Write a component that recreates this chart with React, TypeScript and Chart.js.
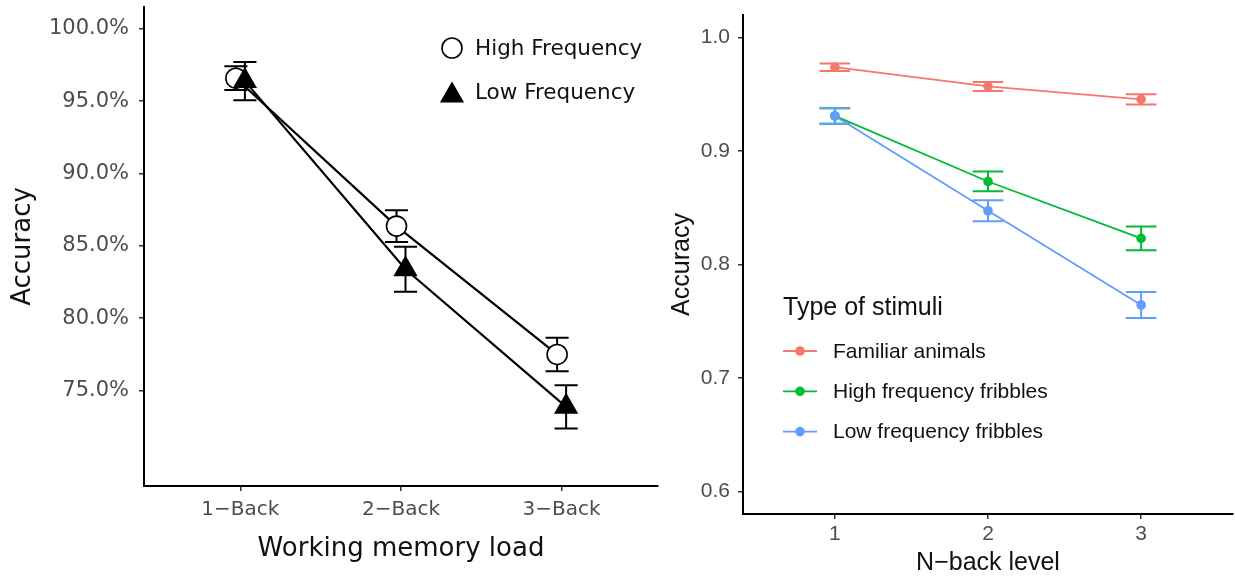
import React, { useEffect, useRef } from 'react';
import { Chart, registerables } from 'chart.js';

Chart.register(...registerables);

// ---------- Left chart data ----------
const wmCategories = ['1−Back', '2−Back', '3−Back'];
const highFreqMean = [96.58, 86.36, 77.49];
const highFreqErr = [0.82, 1.1, 1.16];
const lowFreqMean = [96.38, 83.38, 73.87];
const lowFreqErr = [1.32, 1.55, 1.5];
const leftYTicks = [75, 80, 85, 90, 95, 100];

// ---------- Right chart data ----------
const nbackLevels = [1, 2, 3];
const familiarMean = [0.974, 0.957, 0.9456];
const familiarErr = [0.0033, 0.004, 0.0046];
const highFribMean = [0.931, 0.8732, 0.823];
const highFribErr = [0.0068, 0.0087, 0.0105];
const lowFribMean = [0.931, 0.8474, 0.7643];
const lowFribErr = [0.0068, 0.0092, 0.0114];
const rightYTicks = [0.6, 0.7, 0.8, 0.9, 1.0];

const DODGE = 0.028;
const LEFT_FONT = '"DejaVu Sans", sans-serif';
const RIGHT_FONT = '"Liberation Sans", Arial, sans-serif';

const errorBarPlugin = {
  id: 'errorBars',
  beforeDatasetsDraw(chart: any) {
    const { ctx } = chart;
    const xs = chart.scales.x;
    const ys = chart.scales.y;
    chart.data.datasets.forEach((ds: any) => {
      if (!ds.errors) return;
      ctx.save();
      ctx.strokeStyle = ds.errorColor;
      ctx.lineWidth = ds.errorWidth;
      ds.data.forEach((pt: any, j: number) => {
        const x = xs.getPixelForValue(pt.x);
        const xl = xs.getPixelForValue(pt.x - ds.capHalf);
        const xr = xs.getPixelForValue(pt.x + ds.capHalf);
        const yt = ys.getPixelForValue(pt.y + ds.errors[j]);
        const yb = ys.getPixelForValue(pt.y - ds.errors[j]);
        ctx.beginPath();
        ctx.moveTo(x, yt);
        ctx.lineTo(x, yb);
        ctx.moveTo(xl, yt);
        ctx.lineTo(xr, yt);
        ctx.moveTo(xl, yb);
        ctx.lineTo(xr, yb);
        ctx.stroke();
      });
      ctx.restore();
    });
  },
};

function drawMarker(ctx: CanvasRenderingContext2D, style: string, x: number, y: number, r: number, fill: string, stroke: string, bw: number) {
  ctx.beginPath();
  if (style === 'triangle') {
    let rad = 0;
    ctx.moveTo(x + Math.sin(rad) * r, y - Math.cos(rad) * r);
    rad += (2 * Math.PI) / 3;
    ctx.lineTo(x + Math.sin(rad) * r, y - Math.cos(rad) * r);
    rad += (2 * Math.PI) / 3;
    ctx.lineTo(x + Math.sin(rad) * r, y - Math.cos(rad) * r);
    ctx.closePath();
  } else {
    ctx.arc(x, y, r, 0, Math.PI * 2);
  }
  ctx.fillStyle = fill;
  ctx.fill();
  if (bw > 0) {
    ctx.lineWidth = bw;
    ctx.strokeStyle = stroke;
    ctx.stroke();
  }
}

const leftLegendPlugin = {
  id: 'leftLegend',
  afterDraw(chart: any) {
    const o = chart.options.plugins.leftLegend;
    const { ctx } = chart;
    ctx.save();
    chart.data.datasets.forEach((ds: any, i: number) => {
      const cy = o.rows[i];
      drawMarker(ctx, ds.pointStyle, o.markerX, cy + (ds.pointStyle === 'triangle' ? ds.pointRadius / 4 : 0), ds.pointRadius,
        ds.pointBackgroundColor, ds.pointBorderColor, ds.pointBorderWidth);
      ctx.fillStyle = o.color;
      ctx.font = o.font;
      ctx.textAlign = 'left';
      ctx.textBaseline = 'middle';
      ctx.fillText(ds.label, o.textX, cy + 1);
    });
    ctx.restore();
  },
};

const rightLegendPlugin = {
  id: 'rightLegend',
  afterDraw(chart: any) {
    const o = chart.options.plugins.rightLegend;
    const { ctx } = chart;
    ctx.save();
    ctx.fillStyle = o.color;
    ctx.font = o.titleFont;
    ctx.textAlign = 'left';
    ctx.textBaseline = 'alphabetic';
    ctx.fillText(o.title, o.titleX, o.titleY);
    chart.data.datasets.forEach((ds: any, i: number) => {
      const cy = o.firstRow + i * o.rowGap;
      ctx.strokeStyle = ds.borderColor;
      ctx.lineWidth = ds.borderWidth;
      ctx.beginPath();
      ctx.moveTo(o.lineX0, cy);
      ctx.lineTo(o.lineX1, cy);
      ctx.stroke();
      drawMarker(ctx, 'circle', (o.lineX0 + o.lineX1) / 2, cy, ds.pointRadius, ds.pointBackgroundColor, ds.pointBorderColor, 0);
      ctx.fillStyle = o.color;
      ctx.font = o.itemFont;
      ctx.textBaseline = 'middle';
      ctx.fillText(ds.label, o.textX, cy + 1);
    });
    ctx.restore();
  },
};

function axisCommon() {
  return {
    grid: { display: true, drawOnChartArea: false, drawTicks: true, tickLength: 5, color: '#333333', lineWidth: 1.5 },
    border: { display: true, color: '#000000', width: 2 },
  };
}

function fitX(h: number) {
  return (s: any) => {
    s.height = h;
    s.paddingLeft = 0;
    s.paddingRight = 0;
    s.paddingTop = 0;
    s.paddingBottom = 0;
  };
}
function fitY(w: number) {
  return (s: any) => {
    s.width = w;
    s.paddingLeft = 0;
    s.paddingRight = 0;
    s.paddingTop = 0;
    s.paddingBottom = 0;
  };
}

export default function App() {
  const leftRef = useRef<HTMLCanvasElement | null>(null);
  const rightRef = useRef<HTMLCanvasElement | null>(null);

  useEffect(() => {
    const leftChart = new Chart(leftRef.current as HTMLCanvasElement, {
      type: 'line',
      data: {
        datasets: [
          {
            label: 'High Frequency',
            data: highFreqMean.map((v, i) => ({ x: i + 1 - DODGE, y: v })),
            errors: highFreqErr,
            capHalf: 0.072,
            errorColor: '#000000',
            errorWidth: 2,
            borderColor: '#000000',
            borderWidth: 2.2,
            pointStyle: 'circle',
            pointRadius: 10,
            pointBackgroundColor: '#ffffff',
            pointBorderColor: '#000000',
            pointBorderWidth: 1.6,
            tension: 0,
            order: 1,
          } as any,
          {
            label: 'Low Frequency',
            data: lowFreqMean.map((v, i) => ({ x: i + 1 + DODGE, y: v })),
            errors: lowFreqErr,
            capHalf: 0.072,
            errorColor: '#000000',
            errorWidth: 2,
            borderColor: '#000000',
            borderWidth: 2.2,
            pointStyle: 'triangle',
            pointRadius: 14,
            pointBackgroundColor: '#000000',
            pointBorderColor: '#000000',
            pointBorderWidth: 0,
            tension: 0,
            order: 0,
          } as any,
        ],
      },
      options: {
        responsive: false,
        animation: false,
        events: [],
        layout: { autoPadding: false, padding: { top: 7, right: 2, left: 0, bottom: 0 } },
        plugins: {
          legend: { display: false },
          tooltip: { enabled: false },
          leftLegend: {
            rows: [48, 92],
            markerX: 452,
            textX: 475,
            font: `21.5px ${LEFT_FONT}`,
            color: '#111111',
          },
        } as any,
        scales: {
          x: {
            type: 'linear',
            min: 0.4,
            max: 3.6,
            afterFit: fitX(94),
            afterBuildTicks: (s: any) => { s.ticks = wmCategories.map((_, i) => ({ value: i + 1 })); },
            ticks: {
              callback: (v: any) => wmCategories[Math.round(v) - 1],
              font: { family: LEFT_FONT, size: 20 },
              color: '#4d4d4d',
              padding: 7,
              autoSkip: false,
              maxRotation: 0,
            },
            title: {
              display: true,
              text: 'Working memory load',
              font: { family: LEFT_FONT, size: 26 },
              color: '#111111',
              padding: { top: 0, bottom: 15 },
            },
            ...axisCommon(),
          },
          y: {
            type: 'linear',
            min: 68.4,
            max: 101.5,
            afterFit: fitY(144),
            afterBuildTicks: (s: any) => { s.ticks = leftYTicks.map((v) => ({ value: v })); },
            ticks: {
              callback: (v: any) => Number(v).toFixed(1) + '%',
              font: { family: LEFT_FONT, size: 21 },
              color: '#4d4d4d',
              padding: 10,
            },
            title: {
              display: true,
              text: 'Accuracy',
              font: { family: LEFT_FONT, size: 26 },
              color: '#111111',
              padding: { top: 8, bottom: 0 },
            },
            ...axisCommon(),
          },
        },
      } as any,
      plugins: [errorBarPlugin, leftLegendPlugin],
    });

    const red = '#F8766D';
    const green = '#00BA38';
    const blue = '#619CFF';
    const mk = (label: string, mean: number[], err: number[], color: string, order: number) => ({
      label,
      data: mean.map((v, i) => ({ x: nbackLevels[i], y: v })),
      errors: err,
      capHalf: 0.1,
      errorColor: color,
      errorWidth: 2,
      borderColor: color,
      borderWidth: 1.8,
      pointStyle: 'circle',
      pointRadius: 4.8,
      pointBackgroundColor: color,
      pointBorderColor: color,
      pointBorderWidth: 0,
      tension: 0,
      order,
    });

    const rightChart = new Chart(rightRef.current as HTMLCanvasElement, {
      type: 'line',
      data: {
        datasets: [
          mk('Familiar animals', familiarMean, familiarErr, red, 2) as any,
          mk('High frequency fribbles', highFribMean, highFribErr, green, 1) as any,
          mk('Low frequency fribbles', lowFribMean, lowFribErr, blue, 0) as any,
        ],
      },
      options: {
        responsive: false,
        animation: false,
        events: [],
        layout: { autoPadding: false, padding: { top: 15, right: 2, left: 0, bottom: 0 } },
        plugins: {
          legend: { display: false },
          tooltip: { enabled: false },
          rightLegend: {
            title: 'Type of stimuli',
            titleX: 123,
            titleY: 315,
            titleFont: `25px ${RIGHT_FONT}`,
            itemFont: `21px ${RIGHT_FONT}`,
            color: '#111111',
            firstRow: 351,
            rowGap: 40.3,
            lineX0: 123,
            lineX1: 157,
            textX: 173,
          },
        } as any,
        scales: {
          x: {
            type: 'linear',
            min: 0.4,
            max: 3.6,
            afterFit: fitX(66),
            afterBuildTicks: (s: any) => { s.ticks = nbackLevels.map((v) => ({ value: v })); },
            ticks: {
              callback: (v: any) => String(v),
              font: { family: RIGHT_FONT, size: 21 },
              color: '#4d4d4d',
              padding: 3,
              autoSkip: false,
              maxRotation: 0,
            },
            title: {
              display: true,
              text: 'N−back level',
              font: { family: RIGHT_FONT, size: 25 },
              color: '#111111',
              padding: { top: 0, bottom: 2 },
            },
            ...axisCommon(),
          },
          y: {
            type: 'linear',
            min: 0.58,
            max: 1.02,
            afterFit: fitY(83),
            afterBuildTicks: (s: any) => { s.ticks = rightYTicks.map((v) => ({ value: v })); },
            ticks: {
              callback: (v: any) => Number(v).toFixed(1),
              font: { family: RIGHT_FONT, size: 21 },
              color: '#4d4d4d',
              padding: 8,
            },
            title: {
              display: true,
              text: 'Accuracy',
              font: { family: RIGHT_FONT, size: 25 },
              color: '#111111',
              padding: { top: 7, bottom: 0 },
            },
            ...axisCommon(),
          },
        },
      } as any,
      plugins: [errorBarPlugin, rightLegendPlugin],
    });

    return () => {
      leftChart.destroy();
      rightChart.destroy();
    };
  }, []);

  return (
    <div style={{ position: 'absolute', left: 0, top: 0, width: 1235, height: 580, background: '#ffffff' }}>
      <canvas ref={leftRef} width={660} height={580} style={{ position: 'absolute', left: 0, top: 0 }} />
      <canvas ref={rightRef} width={575} height={580} style={{ position: 'absolute', left: 660, top: 0 }} />
    </div>
  );
}
